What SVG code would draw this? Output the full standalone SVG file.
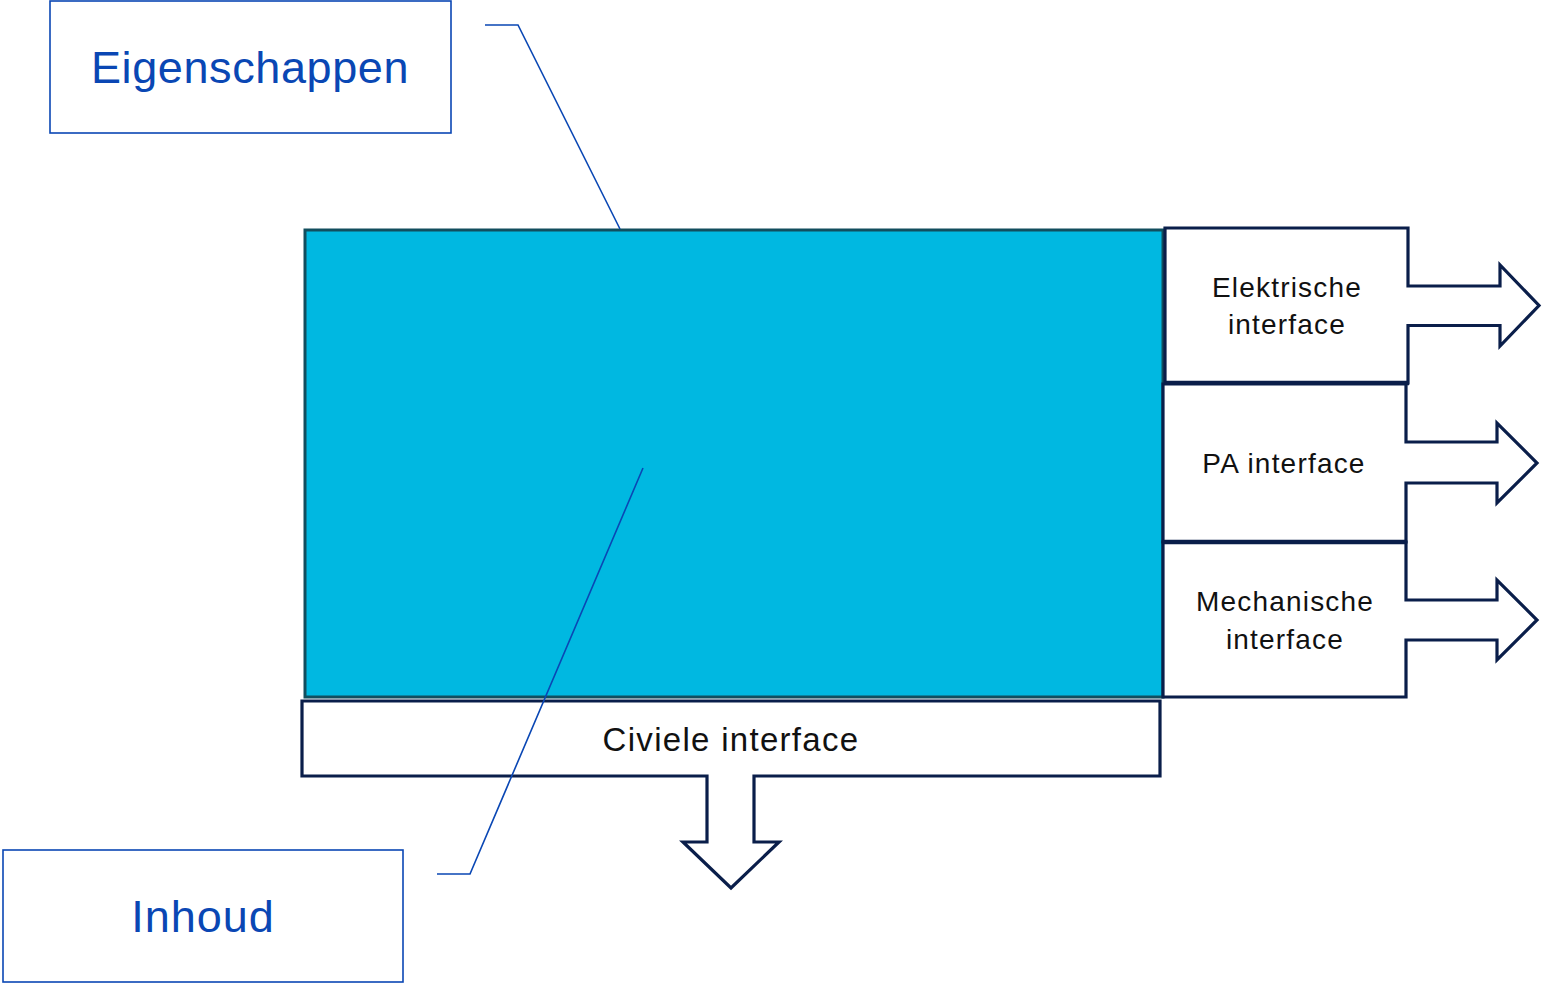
<svg xmlns="http://www.w3.org/2000/svg" width="1547" height="985" viewBox="0 0 1547 985">
  <style>
    .label-box { fill: #ffffff; stroke: #0A47B4; stroke-width: 1.6; }
    .label-text { font-family: "Liberation Sans", Arial, sans-serif; font-size: 45px; fill: #0A47B4; text-anchor: middle; }
    .iface { fill: #ffffff; stroke: #0A1E4A; stroke-width: 3.2; stroke-linejoin: miter; }
    .iface-text { font-family: "Liberation Sans", Arial, sans-serif; font-size: 28px; fill: #111111; text-anchor: middle; letter-spacing: 1.2px; }
    .seam { stroke: #0A1E4A; stroke-width: 4.5; }
    .callout { fill: none; stroke: #0A47B4; stroke-width: 1.6; }
  </style>

  <rect width="1547" height="985" fill="#ffffff"/>

  <!-- main component body -->
  <g id="component">
    <rect x="305" y="230" width="858" height="467" fill="#00B8E1" stroke="#124E5E" stroke-width="3"/>
  </g>

  <!-- interface arrow callouts -->
  <g id="elektrische-interface">
    <path class="iface" d="M1165,228 H1408 V286 H1500 V265 L1539,305.5 L1500,346 V325.5 H1408 V383 H1165 Z"/>
    <line class="seam" x1="1164" y1="383" x2="1409" y2="383"/>
    <text class="iface-text" x="1287" y="297">Elektrische</text>
    <text class="iface-text" x="1287" y="334">interface</text>
  </g>

  <g id="pa-interface">
    <path class="iface" d="M1163,384 H1406 V442 H1497 V423 L1537,463 L1497,503 V483 H1406 V542 H1163 Z"/>
    <text class="iface-text" x="1284" y="473">PA interface</text>
  </g>

  <g id="mechanische-interface">
    <path class="iface" d="M1163,542 H1406 V600 H1497 V580 L1537,620 L1497,660 V640 H1406 V697 H1163 Z"/>
    <line class="seam" x1="1162" y1="542" x2="1407" y2="542"/>
    <text class="iface-text" x="1285" y="611">Mechanische</text>
    <text class="iface-text" x="1285" y="649">interface</text>
  </g>

  <g id="civiele-interface">
    <path class="iface" d="M302,701 H1160 V776 H754 V842 H779 L731,888 L683,842 H707 V776 H302 Z"/>
    <text class="iface-text" x="731" y="751" style="font-size:33px; letter-spacing:1.3px">Civiele interface</text>
  </g>

  <!-- annotation labels -->
  <g id="eigenschappen">
    <rect class="label-box" x="50" y="1" width="401" height="132"/>
    <text class="label-text" x="250" y="83" style="letter-spacing:0.6px">Eigenschappen</text>
  </g>

  <g id="inhoud">
    <rect class="label-box" x="3" y="850" width="400" height="132"/>
    <text class="label-text" x="203" y="932" style="letter-spacing:1px">Inhoud</text>
  </g>

  <!-- leader lines from labels to the body -->
  <g id="connectors">
    <polyline class="callout" points="485,25 518,25 620,229"/>
    <polyline class="callout" points="437,874 470,874 643,468"/>
  </g>
</svg>
